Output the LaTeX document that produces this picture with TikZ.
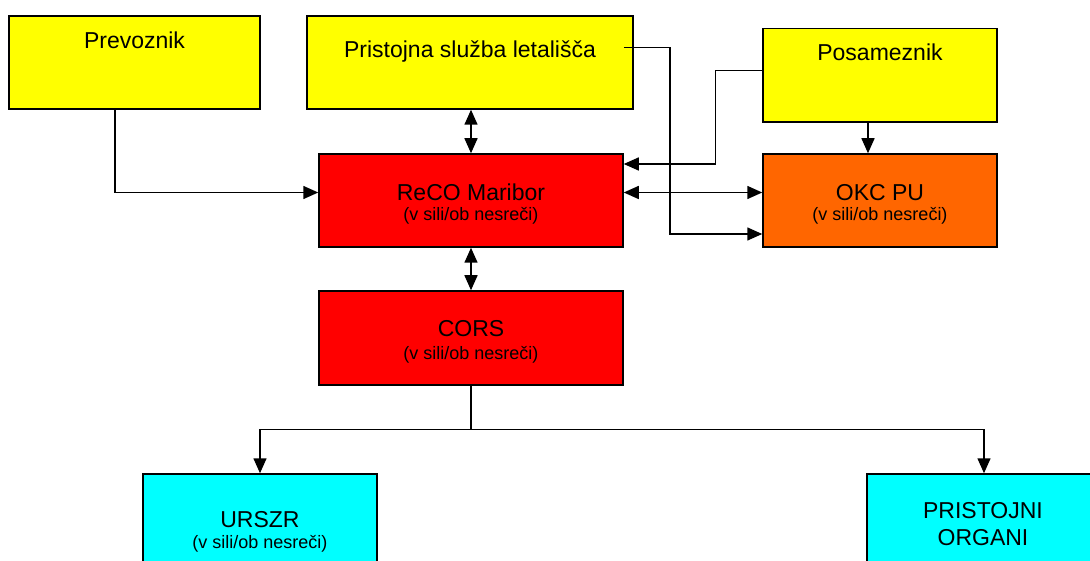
\documentclass[tikz,border=0pt]{standalone}
\usepackage{fontspec}
\setmainfont{Liberation Sans}
\usetikzlibrary{arrows.meta}
\definecolor{boxyellow}{HTML}{FFFF00}
\definecolor{boxred}{HTML}{FF0000}
\definecolor{boxorange}{HTML}{FF6600}
\definecolor{boxcyan}{HTML}{00FFFF}

\begin{document}
\begin{tikzpicture}[x=1pt, y=-1pt, >={Triangle[length=15pt,width=13pt]},
    box/.style={draw, line width=1.5pt, inner sep=0pt},
    title/.style={anchor=base, inner sep=0pt, font=\fontsize{23}{27}\selectfont},
    note/.style={anchor=base, inner sep=0pt, font=\fontsize{18}{21}\selectfont},
    link/.style={line width=1.5pt}]
      \path[use as bounding box, clip] (0,0) rectangle (1090,561);

      \node[box, fill=boxyellow, minimum width=251, minimum height=93] (prevoznik) at (134.5,62.5) {};
      \node[box, fill=boxyellow, minimum width=326, minimum height=93] (pristojna) at (470,62.5) {};
      \node[box, fill=boxyellow, minimum width=234, minimum height=93.5] (posameznik) at (880,75.25) {};
      \node[box, fill=boxred, minimum width=304, minimum height=93] (reco) at (471,200.5) {};
      \node[box, fill=boxorange, minimum width=234, minimum height=93] (okc) at (880,200.5) {};
      \node[box, fill=boxred, minimum width=304, minimum height=94] (cors) at (471,338) {};
      \node[box, fill=boxcyan, minimum width=234, minimum height=93] (urszr) at (260,520.5) {};
      \node[box, fill=boxcyan, minimum width=234, minimum height=93] (organi) at (984,520.5) {};

      \node[title] (prevoznik-t) at (134.5,48.3) {Prevoznik};
      \node[title] (pristojna-t) at (470,58) {Pristojna služba letališča};
      \node[title] (posameznik-t) at (880,61) {Posameznik};
      \node[title] (reco-t) at (471,201) {ReCO Maribor};
      \node[note] (reco-n) at (471,221) {(v sili/ob nesreči)};
      \node[title] (okc-t) at (880,200.7) {OKC PU};
      \node[note] (okc-n) at (880,221) {(v sili/ob nesreči)};
      \node[title] (cors-t) at (471,337) {CORS};
      \node[note] (cors-n) at (471,359.5) {(v sili/ob nesreči)};
      \node[title] (urszr-t) at (260,527.7) {URSZR};
      \node[note] (urszr-n) at (260,548) {(v sili/ob nesreči)};
      \node[title] (organi-t) at (983,518.3) {PRISTOJNI};
      \node[title] (organi-t2) at (983,545) {ORGANI};

      \draw[link, ->] ([xshift=-19.5pt]prevoznik.south) |- ([yshift=8pt]reco.west);
      \draw[link, <->] (reco.north |- pristojna.south) -- (reco.north);
      \draw[link, <->] (reco.south) -- (cors.north);
      \draw[link, <->] ([yshift=8pt]reco.east) -- ([yshift=8pt]okc.west);
      \draw[link, ->] ([yshift=4.5pt]posameznik.west) -- ++(-47,0) |- ([yshift=36.5pt]reco.east);
      \draw[link, ->] ([xshift=-10pt, yshift=15pt]pristojna.east) -- ++(46,0) |- ([yshift=-33.5pt]okc.west);
      \draw[link, ->] ([xshift=-12pt]posameznik.south) -- ([xshift=-12pt]okc.north);
      \draw[link] (cors.south) -- ++(0,43.5) coordinate (split);
      \draw[link, ->] (split) -| (urszr.north);
      \draw[link, ->] (split) -| (organi.north);

    \end{tikzpicture}
\end{document}
